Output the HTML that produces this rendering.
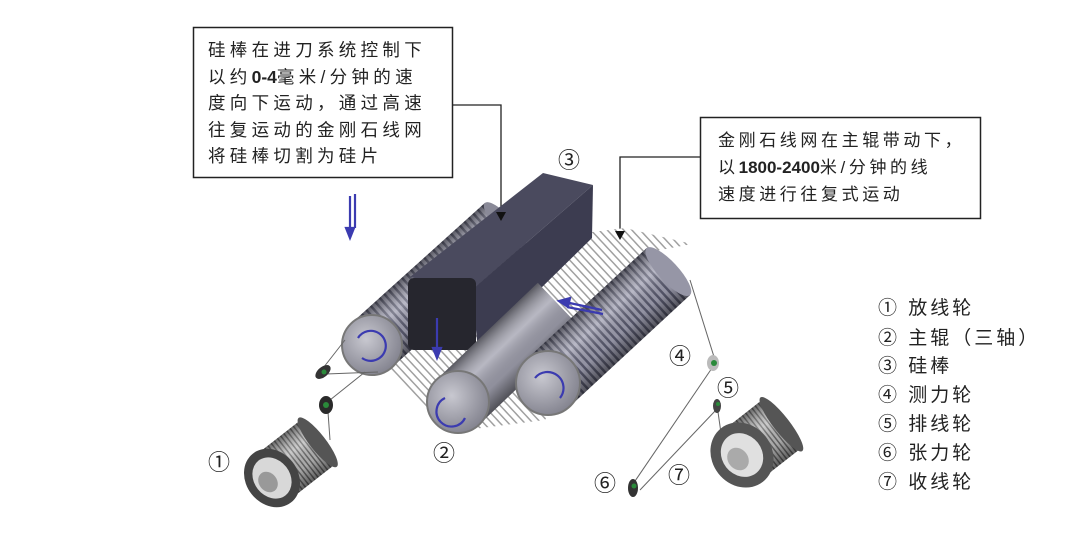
<!DOCTYPE html>
<html><head><meta charset="utf-8"><style>
html,body{margin:0;padding:0;background:#fff;}
body{width:1080px;height:538px;overflow:hidden;font-family:"Liberation Sans","Noto Sans CJK SC",sans-serif;}
svg{display:block}
text{font-family:"Liberation Sans","Noto Sans CJK SC",sans-serif;fill:#222}
.d{letter-spacing:0}
</style></head><body>
<svg width="1080" height="538" viewBox="0 0 1080 538" xmlns="http://www.w3.org/2000/svg">
<defs>
  <pattern id="st" width="6" height="64" patternUnits="userSpaceOnUse">
    <rect width="6" height="64" fill="#a2a2b4"/>
    <rect width="2.5" height="64" fill="#5a5b70"/>
  </pattern>
  <pattern id="web" width="6" height="6" patternUnits="userSpaceOnUse" patternTransform="rotate(47)">
    <rect width="6" height="6" fill="#fff"/>
    <rect width="6" height="1.5" fill="#a0a0a0"/>
  </pattern>
  <pattern id="sp" width="4" height="70" patternUnits="userSpaceOnUse">
    <rect width="4" height="70" fill="#bbb"/>
    <rect width="1.5" height="70" fill="#666"/>
  </pattern>
  <linearGradient id="sh" x1="0" y1="0" x2="0" y2="1">
    <stop offset="0" stop-color="#000" stop-opacity="0.45"/>
    <stop offset="0.35" stop-color="#fff" stop-opacity="0.25"/>
    <stop offset="0.7" stop-color="#000" stop-opacity="0.1"/>
    <stop offset="1" stop-color="#000" stop-opacity="0.5"/>
  </linearGradient>
  <radialGradient id="face" cx="0.4" cy="0.4" r="0.7">
    <stop offset="0" stop-color="#c8c8d0"/>
    <stop offset="1" stop-color="#7c7c88"/>
  </radialGradient>
</defs>

<!-- text box 1 -->
<rect x="193.5" y="27.5" width="259" height="150" fill="#fff" stroke="#222" stroke-width="1.5"/>
<g font-size="17.5" letter-spacing="4.3">
<text x="208" y="56">硅棒在进刀系统控制下</text>
<text x="208" y="83">以约<tspan class="d" font-weight="bold">0-4</tspan>毫米/分钟的速</text>
<text x="208" y="109">度向下运动，通过高速</text>
<text x="208" y="136">往复运动的金刚石线网</text>
<text x="208" y="162">将硅棒切割为硅片</text>
</g>
<polyline points="453,105 501,105 501,210" fill="none" stroke="#222" stroke-width="1.3"/>

<!-- text box 2 -->
<rect x="700.5" y="117.5" width="280" height="101" fill="#fff" stroke="#222" stroke-width="1.5"/>
<g font-size="17" letter-spacing="3.6">
<text x="718" y="146">金刚石线网在主辊带动下，</text>
<text x="718" y="173">以<tspan class="d" font-weight="bold">1800-2400</tspan>米/分钟的线</text>
<text x="718" y="200">速度进行往复式运动</text>
</g>
<polyline points="700,157 620,157 620,230" fill="none" stroke="#222" stroke-width="1.3"/>

<!-- wire web -->
<polygon points="385,365 450,432 545,420 650,252 692,244 625,228 560,236" fill="url(#web)"/>

<!-- roller A -->
<g transform="translate(372,345) rotate(-42)">
  <rect x="0" y="-30" width="179" height="60" fill="url(#st)"/>
  <rect x="0" y="-30" width="179" height="60" fill="url(#sh)"/>
  <ellipse cx="179" cy="0" rx="9" ry="30" fill="#8a8a98"/>
</g>
<circle cx="372" cy="345" r="30" fill="url(#face)" stroke="#777" stroke-width="2"/>

<!-- block -->
<polygon points="410,277 543,173 593,185 472,290" fill="#4a4a5e"/>
<polygon points="472,290 593,185 592,238 478,350" fill="#3c3c50"/>
<rect x="408" y="278" width="68" height="72" rx="6" fill="#26262e"/>
<path d="M496,212 L506,212 L501,221 Z" fill="#111"/>

<!-- roller B -->
<g transform="translate(458,402) rotate(-43.7)">
  <rect x="0" y="-31" width="140" height="62" fill="#a0a0ae"/>
  <rect x="0" y="-31" width="140" height="62" fill="url(#sh)"/>
</g>
<circle cx="458" cy="402" r="31" fill="url(#face)" stroke="#777" stroke-width="2"/>

<!-- roller C -->
<g transform="translate(548,383) rotate(-42.8)">
  <rect x="0" y="-32" width="164" height="64" fill="url(#st)"/>
  <rect x="0" y="-32" width="164" height="64" fill="url(#sh)"/>
  <ellipse cx="164" cy="0" rx="10" ry="32" fill="#9696a6"/>
</g>
<circle cx="548" cy="383" r="32" fill="url(#face)" stroke="#777" stroke-width="2"/>
<path d="M615,231 L625,231 L620,240 Z" fill="#111"/>

<!-- blue rotation arrows on faces -->
<g fill="none" stroke="#3b3bb0" stroke-width="2.2">
  <path d="M358,338 A15,15 0 1 1 362,358"/>
  <path d="M445,398 A15,15 0 1 0 465,418"/>
  <path d="M535,378 A15,15 0 1 1 560,398"/>
</g>
<!-- blue motion arrows -->
<g stroke="#3b3bb0" stroke-width="2.2" fill="#3b3bb0">
  <line x1="350" y1="196" x2="350" y2="232"/><path d="M346,228 L350,238 L354,228 Z"/>
  <line x1="355" y1="194" x2="355" y2="228"/>
  <line x1="437" y1="318" x2="437" y2="352"/><path d="M433,348 L437,358 L441,348 Z"/>
  <line x1="565" y1="302" x2="602" y2="310"/><path d="M570,298 L559,301 L568,307 Z"/>
  <line x1="567" y1="307" x2="603" y2="314"/>
</g>

<!-- wires to small wheels -->
<g stroke="#666" stroke-width="1" fill="none">
  <line x1="345" y1="340" x2="320" y2="372"/>
  <line x1="378" y1="372" x2="326" y2="374"/>
  <line x1="330" y1="400" x2="365" y2="372"/>
  <line x1="328" y1="412" x2="330" y2="440"/>
  <line x1="690" y1="280" x2="715" y2="360"/>
  <line x1="712" y1="368" x2="633" y2="484"/>
  <line x1="716" y1="410" x2="640" y2="490"/>
  <line x1="718" y1="412" x2="722" y2="440"/>
</g>
<!-- small wheels -->
<g>
  <ellipse cx="323" cy="372" rx="5" ry="9" transform="rotate(50 323 372)" fill="#333"/><circle cx="324" cy="372" r="2.5" fill="#2a8a3a"/>
  <ellipse cx="326" cy="405" rx="7" ry="9" fill="#2a2a2a"/><circle cx="326" cy="405" r="3" fill="#2a8a3a"/>
  <ellipse cx="713" cy="363" rx="6" ry="8" fill="#bbb"/><circle cx="714" cy="363" r="3" fill="#2a8a3a"/>
  <ellipse cx="717" cy="406" rx="4" ry="7" fill="#444"/><circle cx="718" cy="404" r="2" fill="#2a8a3a"/>
  <ellipse cx="633" cy="488" rx="5" ry="9" fill="#333"/><circle cx="634" cy="486" r="2.5" fill="#2a8a3a"/>
</g>

<!-- spool 1 -->
<g transform="translate(272,478) rotate(-38)">
  <rect x="0" y="-28" width="58" height="56" fill="url(#sp)"/>
  <rect x="0" y="-28" width="58" height="56" fill="url(#sh)"/>
  <ellipse cx="58" cy="0" rx="8" ry="31" fill="#555"/>
</g>
<ellipse cx="272" cy="478" rx="26" ry="31" transform="rotate(-38 272 478)" fill="#444"/>
<ellipse cx="272" cy="478" rx="18" ry="22" transform="rotate(-38 272 478)" fill="#d8d8d8"/>
<ellipse cx="268" cy="482" rx="9" ry="11" transform="rotate(-38 268 482)" fill="#999"/>

<!-- spool 7 -->
<g transform="translate(742,455) rotate(-38)">
  <rect x="0" y="-31" width="50" height="62" fill="url(#sp)"/>
  <rect x="0" y="-31" width="50" height="62" fill="url(#sh)"/>
  <ellipse cx="50" cy="0" rx="8" ry="34" fill="#555"/>
</g>
<ellipse cx="742" cy="455" rx="30" ry="34" transform="rotate(-38 742 455)" fill="#555"/>
<ellipse cx="742" cy="455" rx="20" ry="23" transform="rotate(-38 742 455)" fill="#e0e0e0"/>
<ellipse cx="738" cy="459" rx="10" ry="12" transform="rotate(-38 738 459)" fill="#aaa"/>

<!-- circled numbers -->
<g font-size="22">
  <text x="558" y="168">③</text>
  <text x="208" y="470">①</text>
  <text x="433" y="461">②</text>
  <text x="669" y="364">④</text>
  <text x="717" y="396">⑤</text>
  <text x="594" y="491">⑥</text>
  <text x="668" y="483">⑦</text>
</g>

<!-- legend -->
<g font-size="19" letter-spacing="3">
  <text x="878" y="314">① 放线轮</text>
  <text x="878" y="344">② 主辊（三轴）</text>
  <text x="878" y="372">③ 硅棒</text>
  <text x="878" y="401">④ 测力轮</text>
  <text x="878" y="430">⑤ 排线轮</text>
  <text x="878" y="459">⑥ 张力轮</text>
  <text x="878" y="488">⑦ 收线轮</text>
</g>
</svg>
</body></html>
